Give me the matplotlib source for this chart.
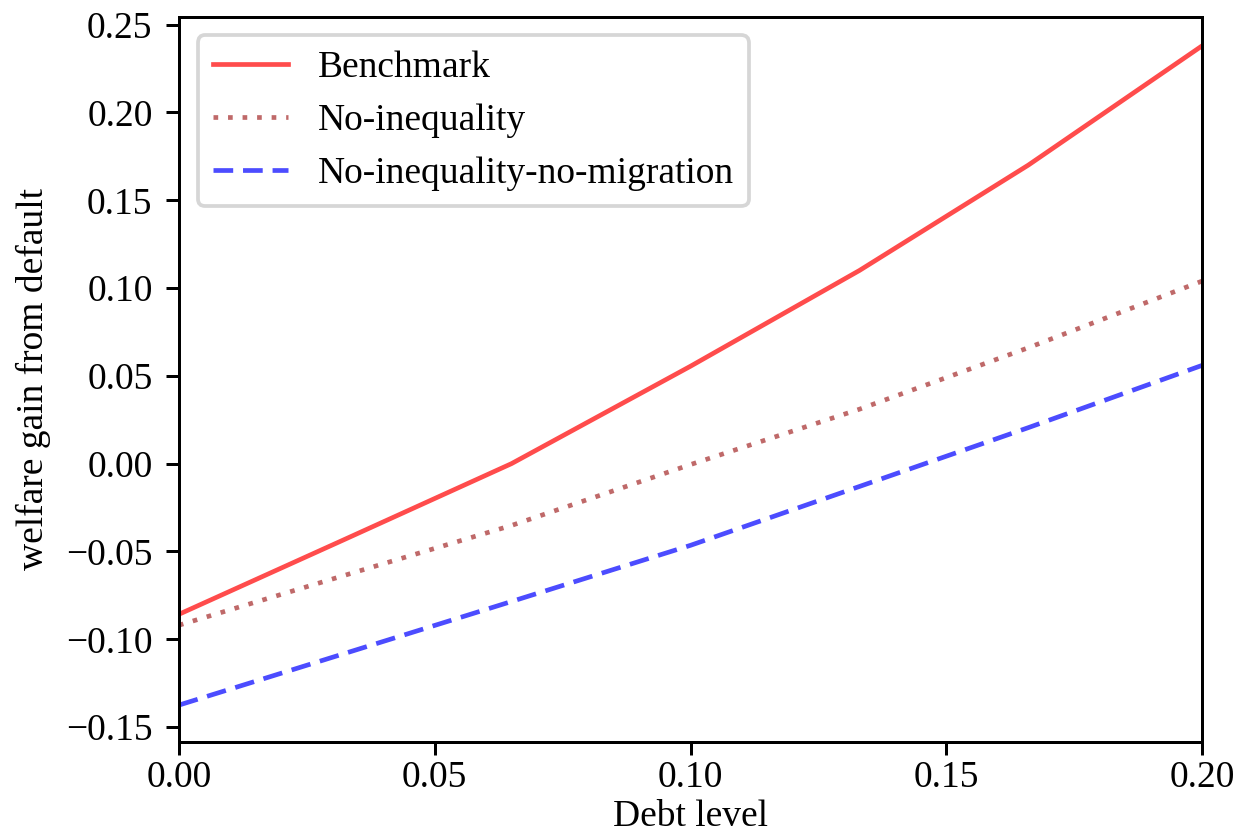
import matplotlib
matplotlib.use("Agg")
import matplotlib.pyplot as plt

debt = [0.0, 0.0325, 0.065, 0.1, 0.133, 0.166, 0.2]
benchmark = [-0.0858, -0.043, 0.0, 0.0555, 0.110, 0.170, 0.238]
no_inequality = [-0.092, -0.0635, -0.0352, -0.0005, 0.031, 0.066, 0.104]
no_ineq_no_mig = [-0.1375, -0.108, -0.0785, -0.0465, -0.013, 0.0205, 0.056]

labels = ["Benchmark", "No-inequality", "No-inequality-no-migration"]
xticks = [0.00, 0.05, 0.10, 0.15, 0.20]
yticks = [-0.15, -0.10, -0.05, 0.00, 0.05, 0.10, 0.15, 0.20, 0.25]

plt.rcParams['font.family'] = ['Liberation Serif', 'DejaVu Serif']
plt.rcParams['font.size'] = 10

fig = plt.figure(figsize=(4.6, 3.1), dpi=270)
ax = fig.add_axes([0.144, 0.1135, 0.824, 0.8665])

lw = 1.25
ax.plot(debt, benchmark, color='red', alpha=0.7, linestyle='-', linewidth=lw, label=labels[0])
ax.plot(debt, no_inequality, color='brown', alpha=0.7, linestyle=(0, (1.0, 2.1)), linewidth=lw, label=labels[1])
ax.plot(debt, no_ineq_no_mig, color='blue', alpha=0.7, linestyle=(0, (4.2, 2.1)), linewidth=lw, label=labels[2])

ax.set_xlim(0, 0.2)
ax.set_ylim(-0.1585, 0.2545)
ax.set_xticks(xticks)
ax.set_xticklabels([f"{v:.2f}" for v in xticks])
ax.set_yticks(yticks)
ax.set_yticklabels([f"{v:.2f}".replace("-", "\u2212") for v in yticks])
ax.tick_params(axis='x', pad=1.5)

ax.set_xlabel("Debt level", labelpad=1.0)
ax.set_ylabel("welfare gain from default")
ax.legend(loc='upper left')

fig.savefig("out.png", dpi=270)
